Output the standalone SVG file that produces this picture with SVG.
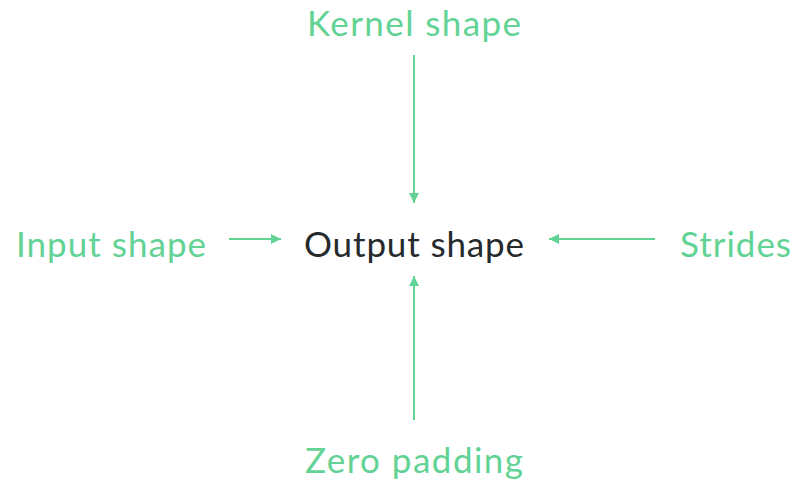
<svg xmlns="http://www.w3.org/2000/svg" width="796" height="483" viewBox="0 0 796 483">
  <style>
    .lbl { font-family: Lato, "Open Sans", "Liberation Sans", sans-serif; font-size: 35px; fill: #62d394; }
    .out { font-family: Lato, "Open Sans", "Liberation Sans", sans-serif; font-size: 35px; fill: #262a2c; }
    .edge { stroke: #62d394; stroke-width: 2; fill: none; marker-end: url(#head); }
  </style>
  <defs>
    <marker id="head" viewBox="0 0 10 10" refX="10" refY="5" markerWidth="12" markerHeight="10" markerUnits="userSpaceOnUse" orient="auto">
      <path d="M0,0 L10,5 L0,10 Z" fill="#62d394"/>
    </marker>
  </defs>
  <rect width="796" height="483" fill="#ffffff"/>
  <g id="connectors">
    <line class="edge" x1="414" y1="55" x2="414" y2="203"/>
    <line class="edge" x1="414" y1="420" x2="414" y2="276"/>
    <line class="edge" x1="229" y1="239" x2="281" y2="239"/>
    <line class="edge" x1="655" y1="239" x2="549" y2="239"/>
  </g>
  <g id="kernel-shape"><text class="lbl" x="307" y="36" textLength="214" lengthAdjust="spacing">Kernel shape</text></g>
  <g id="input-shape"><text class="lbl" x="16" y="257" textLength="190" lengthAdjust="spacing">Input shape</text></g>
  <g id="output-shape"><text class="out" x="304" y="257" textLength="220" lengthAdjust="spacing">Output shape</text></g>
  <g id="strides"><text class="lbl" x="680" y="257" textLength="111" lengthAdjust="spacing">Strides</text></g>
  <g id="zero-padding"><text class="lbl" x="305" y="473" textLength="218" lengthAdjust="spacing">Zero padding</text></g>
</svg>
